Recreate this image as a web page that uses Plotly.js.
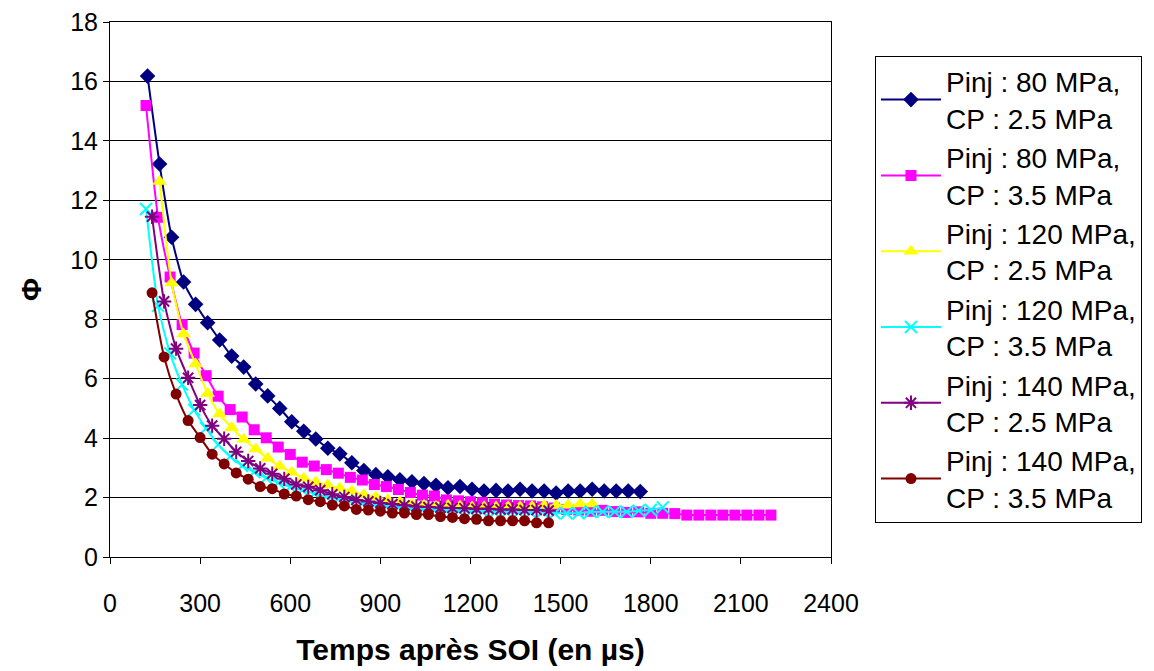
<!DOCTYPE html>
<html>
<head>
<meta charset="utf-8">
<script src="https://cdn.plot.ly/plotly-3.0.1.min.js"></script>
<style>
html,body{margin:0;padding:0;background:#fff;}
#chart{width:1154px;height:671px;}
</style>
</head>
<body>
<div id="chart"></div>
<script>
// Time after SOI (µs) and equivalence ratio Φ for each series
const seriesNames = [
  "Pinj : 80 MPa,<br>CP : 2.5 MPa",
  "Pinj : 80 MPa,<br>CP : 3.5 MPa",
  "Pinj : 120 MPa,<br>CP : 2.5 MPa",
  "Pinj : 120 MPa,<br>CP : 3.5 MPa",
  "Pinj : 140 MPa,<br>CP : 2.5 MPa",
  "Pinj : 140 MPa,<br>CP : 3.5 MPa"
];

const t80_25 = [125,165,205,245,285,325,365,405,445,485,525,565,605,645,685,725,765,805,845,885,925,965,1005,1045,1085,1125,1165,1205,1245,1285,1325,1365,1405,1445,1485,1525,1565,1605,1645,1685,1725,1765];
const phi80_25 = [16.18,13.22,10.76,9.25,8.50,7.88,7.30,6.76,6.39,5.82,5.42,5.00,4.55,4.23,3.97,3.66,3.47,3.17,2.91,2.77,2.70,2.60,2.53,2.47,2.41,2.33,2.37,2.28,2.22,2.24,2.22,2.28,2.22,2.22,2.15,2.22,2.22,2.28,2.22,2.22,2.22,2.20];

const t80_35 = [120,160,200,240,280,320,360,400,440,480,520,560,600,640,680,720,760,800,840,880,920,960,1000,1040,1080,1120,1160,1200,1240,1280,1320,1360,1400,1440,1480,1520,1560,1600,1640,1680,1720,1760,1800,1840,1880,1920,1960,2000,2040,2080,2120,2160,2200];
const phi80_35 = [15.19,11.43,9.42,7.82,6.86,6.10,5.41,4.96,4.71,4.28,4.01,3.70,3.45,3.19,3.06,2.94,2.82,2.68,2.59,2.44,2.37,2.27,2.17,2.08,2.05,1.92,1.89,1.86,1.83,1.78,1.75,1.73,1.72,1.69,1.65,1.60,1.58,1.54,1.57,1.53,1.50,1.52,1.47,1.47,1.46,1.41,1.41,1.41,1.41,1.41,1.41,1.41,1.41];

const t120_25 = [165,205,245,285,325,365,405,445,485,525,565,605,645,685,725,765,805,845,885,925,965,1005,1045,1085,1125,1165,1205,1245,1285,1325,1365,1405,1445,1485,1525,1565,1605];
const phi120_25 = [12.63,9.22,7.50,6.49,5.50,4.81,4.35,3.96,3.63,3.32,3.05,2.85,2.65,2.52,2.42,2.31,2.21,2.09,2.02,1.93,1.86,1.78,1.74,1.70,1.74,1.72,1.68,1.69,1.68,1.69,1.69,1.70,1.73,1.73,1.74,1.78,1.78];

const t120_35 = [120,160,200,240,280,320,360,400,440,480,520,560,600,640,680,720,760,800,840,880,920,960,1000,1040,1080,1120,1160,1200,1240,1280,1320,1360,1400,1440,1480,1520,1560,1600,1640,1680,1720,1760,1800,1840];
const phi120_35 = [11.71,8.45,6.85,5.80,4.95,4.33,3.78,3.38,3.07,2.86,2.66,2.50,2.36,2.25,2.13,2.03,1.95,1.88,1.81,1.75,1.70,1.67,1.62,1.60,1.58,1.55,1.55,1.52,1.52,1.50,1.50,1.50,1.50,1.52,1.47,1.47,1.47,1.52,1.52,1.52,1.52,1.56,1.58,1.67];

const t140_25 = [140,180,220,260,300,340,380,420,460,500,540,580,620,660,700,740,780,820,860,900,940,980,1020,1060,1100,1140,1180,1220,1260,1300,1340,1380,1420,1460];
const phi140_25 = [11.45,8.60,7.01,6.03,5.11,4.42,3.98,3.54,3.23,2.98,2.80,2.63,2.44,2.36,2.25,2.11,2.02,1.92,1.87,1.82,1.78,1.74,1.70,1.68,1.66,1.65,1.64,1.62,1.62,1.60,1.60,1.58,1.58,1.56];

const t140_35 = [140,180,220,260,300,340,380,420,460,500,540,580,620,660,700,740,780,820,860,900,940,980,1020,1060,1100,1140,1180,1220,1260,1300,1340,1380,1420,1460];
const phi140_35 = [8.89,6.73,5.48,4.59,4.02,3.46,3.13,2.83,2.62,2.37,2.30,2.12,2.05,1.93,1.86,1.75,1.72,1.60,1.58,1.54,1.48,1.48,1.43,1.43,1.36,1.33,1.29,1.27,1.22,1.22,1.22,1.22,1.15,1.15];

const xTickVals = [0,300,600,900,1200,1500,1800,2100,2400];
const yTickVals = [0,2,4,6,8,10,12,14,16,18];

const xs = [t80_25, t80_35, t120_25, t120_35, t140_25, t140_35];
const ys = [phi80_25, phi80_35, phi120_25, phi120_35, phi140_25, phi140_35];
const colors = ["#000080","#FF00FF","#FFFF00","#00FFFF","#800080","#800000"];
const symbols = ["diamond","square","triangle-up","x-thin-open","asterisk-open","circle"];
const sizes = [12,11,13,12,12,11];

const FONT = "Liberation Sans, Arial, Helvetica, sans-serif";

const traces = xs.map((x, i) => ({
  type: "scatter",
  mode: "lines+markers",
  name: seriesNames[i],
  x: x,
  y: ys[i],
  line: {color: colors[i], width: 2, shape: "spline", smoothing: 0.6},
  marker: {symbol: symbols[i], size: sizes[i], color: colors[i],
           line: {color: colors[i], width: (symbols[i].indexOf("open") >= 0 ? 2 : 0)}}
}));

const layout = {
  width: 1154, height: 671,
  paper_bgcolor: "#ffffff", plot_bgcolor: "#ffffff",
  margin: {l: 110, r: 323, t: 22, b: 114, pad: 0},
  font: {family: FONT, color: "#000", size: 25},
  showlegend: true,
  legend: {
    x: 1.061, y: 0.937, xanchor: "left", yanchor: "top",
    bordercolor: "#000", borderwidth: 1, bgcolor: "#fff",
    font: {family: FONT, size: 28, color: "#000"},
    itemwidth: 60, tracegroupgap: 5
  },
  xaxis: {
    range: [0, 2400], tickvals: xTickVals, ticktext: xTickVals.map(String),
    showgrid: false, zeroline: false,
    showline: true, linecolor: "#000", linewidth: 1, mirror: true,
    ticks: "outside", ticklen: 6, tickcolor: "#000",
    ticklabelstandoff: 18,
    tickfont: {family: FONT, size: 25, color: "#000"},
    title: {text: "<b>Temps après SOI (en µs)</b>", font: {family: FONT, size: 30, color: "#000"}, standoff: 22}
  },
  yaxis: {
    range: [0, 18], tickvals: yTickVals, ticktext: yTickVals.map(String),
    showgrid: true, gridcolor: "#000", gridwidth: 1, zeroline: false,
    showline: true, linecolor: "#000", linewidth: 1, mirror: true,
    ticks: "outside", ticklen: 6, tickcolor: "#000",
    tickfont: {family: FONT, size: 25, color: "#000"},
    title: {text: "<b>Φ</b>", font: {family: FONT, size: 28, color: "#000"}, standoff: 20}
  }
};

Plotly.newPlot("chart", traces, layout, {displayModeBar: false, staticPlot: true});
</script>
</body>
</html>
